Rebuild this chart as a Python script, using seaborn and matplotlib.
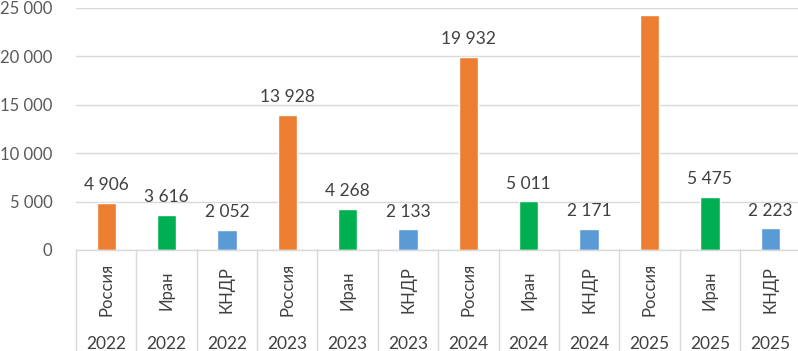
import matplotlib
matplotlib.use("Agg")
import matplotlib.pyplot as plt
import matplotlib.transforms as mtransforms
import seaborn as sns
import pandas as pd

years = ["2022", "2022", "2022", "2023", "2023", "2023",
         "2024", "2024", "2024", "2025", "2025", "2025"]
countries = ["Россия", "Иран", "КНДР"] * 4
values = [4906, 3616, 2052, 13928, 4268, 2133,
          19932, 5011, 2171, 24300, 5475, 2223]
labels = ["4 906", "3 616", "2 052", "13 928", "4 268", "2 133",
          "19 932", "5 011", "2 171", "", "5 475", "2 223"]
yticks = [0, 5000, 10000, 15000, 20000, 25000]
ytick_labels = ["0", "5 000", "10 000", "15 000", "20 000", "25 000"]

palette = {"Россия": "#ED7D31", "Иран": "#00B050", "КНДР": "#5B9BD5"}

sns.set_theme(style="white")
plt.rcParams['font.family'] = ['Lato', 'DejaVu Sans']

keys = [f"{c}{y}" for c, y in zip(countries, years)]
df = pd.DataFrame({"key": keys, "country": countries, "year": years, "value": values})

fig = plt.figure(figsize=(7.98, 3.51), dpi=100)
ax = fig.add_axes([76 / 798, 1 - 250 / 351, 1 - 76 / 798 + 0.003, 242 / 351])

sns.barplot(data=df, x="key", y="value", hue="country", order=keys,
            palette=palette, dodge=False, width=0.32, saturation=1,
            legend=False, ax=ax)

ax.set_xlim(-0.5, len(keys) - 0.5)
ax.set_ylim(0, 25000)
ax.set_yticks(yticks)
ax.set_yticklabels(ytick_labels, fontsize=12, color="#595959")
ax.tick_params(axis="y", length=0, pad=17)
ax.set_xticks([])
ax.set_xlabel("")
ax.set_ylabel("")
ax.grid(axis="y", color="#d9d9d9", linewidth=1)
ax.set_axisbelow(True)
for s in ["top", "right", "left"]:
    ax.spines[s].set_visible(False)
ax.spines["bottom"].set_color("#d9d9d9")
ax.spines["bottom"].set_linewidth(1)

for i, (v, lab) in enumerate(zip(values, labels)):
    if lab:
        ax.annotate(lab, (i, v), xytext=(0, 7), textcoords="offset points",
                    ha="center", va="bottom", fontsize=12.5, color="#404040")

trans = mtransforms.blended_transform_factory(ax.transData, ax.transAxes)
for i in range(len(keys) + 1):
    ax.plot([i - 0.5, i - 0.5], [0, -0.45], transform=trans, color="#d9d9d9",
            linewidth=1, clip_on=False)
for i, (c, y) in enumerate(zip(countries, years)):
    ax.text(i, -0.165, c, transform=trans, rotation=90, ha="center", va="center",
            fontsize=12, color="#404040")
    ax.text(i, -0.39, y, transform=trans, ha="center", va="center",
            fontsize=12.5, color="#404040")

fig.savefig("out.png", dpi=100)
